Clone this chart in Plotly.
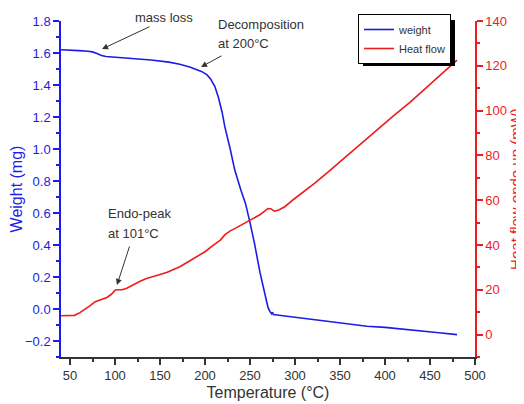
import plotly.graph_objects as go

# ---- data ----
weight_T = [40, 50, 60, 70, 75, 80, 85, 90, 100, 120, 140, 160, 172, 183, 190, 196, 202, 206,
            211, 215, 219, 222, 228, 233, 240, 245, 250, 255, 261, 266, 270, 272, 274, 275,
            276, 280, 290, 306, 330, 350, 369, 380, 400, 420, 440, 460, 480]
weight_mg = [1.620, 1.619, 1.615, 1.611, 1.607, 1.597, 1.584, 1.578, 1.574, 1.566, 1.556, 1.543,
             1.530, 1.512, 1.500, 1.485, 1.465, 1.440, 1.390, 1.320, 1.230, 1.140, 1.000, 0.870,
             0.740, 0.660, 0.540, 0.410, 0.230, 0.100, 0.010, -0.015, -0.030, -0.020, -0.035,
             -0.038, -0.045, -0.056, -0.072, -0.085, -0.100, -0.108, -0.115, -0.125, -0.135,
             -0.148, -0.160]

heat_T = [40, 50, 55, 61, 66, 72, 78, 85, 91, 96, 100, 103, 108, 113, 120, 128, 135, 142, 150,
          158, 165, 172, 180, 187, 194, 200, 209, 217, 222, 228, 233, 240, 246, 252, 261, 266,
          270, 273, 277, 282, 289, 298, 310, 322, 335, 350, 372, 390, 409, 428, 446, 465, 480]
heat_mW = [8.4, 8.5, 8.6, 9.8, 11.0, 12.8, 14.7, 15.6, 16.6, 18.0, 19.8, 20.0, 20.0, 20.7, 22.2,
           23.8, 25.0, 26.0, 26.8, 27.8, 29.0, 30.3, 32.2, 33.8, 35.4, 37.0, 39.8, 42.2, 44.5,
           46.3, 47.3, 48.8, 50.0, 51.5, 53.5, 55.0, 56.3, 56.2, 55.1, 55.6, 57.2, 60.2, 63.8,
           67.6, 72.0, 77.2, 85.0, 91.0, 97.5, 103.8, 110.2, 117.0, 122.5]

series_names = ["weight", "Heat flow"]
x_title = "Temperature (°C)"
y_title = "Weight (mg)"
y2_title = "Heat flow endo up (mW)"

BLUE = "#1c1ce6"
RED = "#ee1c1c"
DARK = "#333333"
FONT = "Arial, Liberation Sans, sans-serif"

# the page body adds an 8px offset; margins compensate so the plot area lands at
# x 61..475, y 21..357 in the screenshot
fig = go.Figure()
fig.add_trace(go.Scatter(x=weight_T, y=weight_mg, mode="lines", name=series_names[0],
                         line=dict(color=BLUE, width=1.6), yaxis="y"))
fig.add_trace(go.Scatter(x=heat_T, y=heat_mW, mode="lines", name=series_names[1],
                         line=dict(color=RED, width=1.6), yaxis="y2"))

PW, PH = 414.0, 336.0
def px2paper(px, py):
    return (px - 61) / PW, (357 - py) / PH

LEG_L, LEG_T = 358, 14
lx, ly = px2paper(LEG_L, LEG_T)

fig.update_layout(
    width=524, height=404,
    margin=dict(l=53, r=57, t=13, b=55, autoexpand=False),
    paper_bgcolor="white", plot_bgcolor="white",
    font=dict(family=FONT, size=13, color=DARK),
    showlegend=True,
    legend=dict(x=lx, y=ly, xanchor="left", yanchor="top",
                bgcolor="white", bordercolor="black", borderwidth=1,
                font=dict(size=11, color=DARK), tracegroupgap=0, itemwidth=30),
    xaxis=dict(range=[40, 500], showline=True, linecolor=DARK, linewidth=1.5,
               ticks="outside", ticklen=6, tickwidth=1.5, tickcolor=DARK,
               tick0=0, dtick=50, showgrid=False, zeroline=False, automargin=False,
               tickfont=dict(size=13, color=DARK),
               minor=dict(ticks="outside", ticklen=3, tickwidth=1.5, tickcolor=DARK, dtick=25),
               title=dict(text=x_title, font=dict(size=16, color=DARK), standoff=4)),
    yaxis=dict(range=[-0.3, 1.8], showline=True, linecolor=BLUE, linewidth=1.5,
               ticks="outside", ticklen=6, tickwidth=1.5, tickcolor=BLUE,
               tick0=0, dtick=0.2, tickformat=".1f", showgrid=False, zeroline=False,
               automargin=False, tickfont=dict(size=13, color=BLUE),
               minor=dict(ticks="outside", ticklen=3, tickwidth=1.5, tickcolor=BLUE, dtick=0.1),
               title=dict(text=y_title, font=dict(size=16, color=BLUE), standoff=6)),
    yaxis2=dict(range=[-10, 140], overlaying="y", side="right", anchor="x",
                showline=True, linecolor=RED, linewidth=1.5,
                ticks="outside", ticklen=6, tickwidth=1.5, tickcolor=RED,
                tick0=0, dtick=20, showgrid=False, zeroline=False, automargin=False,
                tickfont=dict(size=13, color=RED),
                minor=dict(ticks="outside", ticklen=3, tickwidth=1.5, tickcolor=RED, dtick=10),
                title=dict(text=y2_title, font=dict(size=15, color=RED), standoff=1)),
)

# legend drop shadow (behind the white legend box)
LEG_W, LEG_H = 92, 46
sx0, sy0 = px2paper(LEG_L + 5, LEG_T + 6)
sx1, sy1 = px2paper(LEG_L + LEG_W + 5, LEG_T + LEG_H + 6)
fig.add_shape(type="rect", xref="paper", yref="paper", x0=sx0, x1=sx1, y0=sy1, y1=sy0,
              fillcolor="black", line=dict(width=0), layer="above")

# text annotations
texts = [
    ("Decomposition", 212.2, 1.781, "left"),
    ("at 200°C", 212.2, 1.6625, "left"),
    ("Endo-peak", 90.0, 0.594, "left"),
    ("at 101°C", 90.0, 0.475, "left"),
]
for t, x, y, xa in texts:
    fig.add_annotation(text=t, x=x, y=y, xref="x", yref="y", xanchor=xa, yanchor="middle",
                       showarrow=False, font=dict(size=13, color=DARK, family=FONT))
fig.add_annotation(text="mass loss", x=154.4, y=(357 - 17) / PH, xref="x", yref="paper",
                   xanchor="center", yanchor="middle", showarrow=False,
                   font=dict(size=13, color=DARK, family=FONT))

# arrows
arrows = [(85.6, 1.625, 49, -23), (195.6, 1.5125, 22, -12), (102.2, 0.15, 13, -40)]
for x, y, ax, ay in arrows:
    fig.add_annotation(text="", x=x, y=y, xref="x", yref="y", ax=ax, ay=ay,
                       showarrow=True, arrowhead=2, arrowsize=1.2, arrowwidth=1,
                       arrowcolor=DARK, standoff=0)

fig.write_html("out.html")
